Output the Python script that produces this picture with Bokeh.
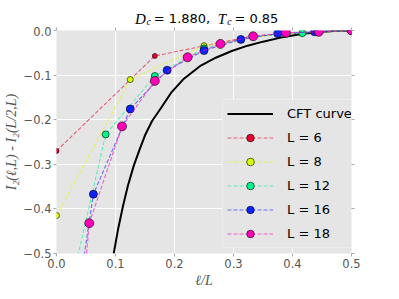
from bokeh.plotting import figure
from bokeh.layouts import column
from bokeh.core.properties import value
from bokeh.models import (Range1d, FixedTicker, CustomJSTickFormatter, LinearAxis,
                          Legend, LegendItem)
from bokeh.embed import file_html
from bokeh.resources import INLINE

# ---------------- data ----------------
x_ticks = [0.0, 0.1, 0.2, 0.3, 0.4, 0.5]
y_ticks = [-0.5, -0.4, -0.3, -0.2, -0.1, 0.0]

cft_x = [0.097, 0.104, 0.113, 0.121, 0.131, 0.140, 0.150, 0.162, 0.178, 0.194, 0.216,
         0.243, 0.270, 0.297, 0.324, 0.350, 0.380, 0.410, 0.440, 0.470, 0.500]
cft_y = [-0.500, -0.448, -0.392, -0.348, -0.303, -0.270, -0.235, -0.203, -0.172, -0.140,
         -0.108, -0.080, -0.061, -0.046, -0.034, -0.025, -0.016, -0.009, -0.004, -0.001, 0.000]

L6_x = [0.0, 1/6, 2/6, 3/6]
L6_y = [-0.270, -0.057, -0.012, 0.0]

L8_x = [0.0, 1/8, 2/8, 3/8, 4/8]
L8_y = [-0.415, -0.110, -0.034, -0.008, 0.0]

L12_x = [0.0, 1/12, 2/12, 3/12, 4/12, 5/12, 6/12]
L12_y = [-0.716, -0.233, -0.102, -0.040, -0.013, -0.006, 0.0]

L16_x = [0.0, 1/16, 2/16, 3/16, 4/16, 5/16, 6/16, 7/16, 8/16]
L16_y = [-0.917, -0.367, -0.176, -0.089, -0.045, -0.020, -0.007, -0.003, 0.0]

L18_x = [0.0, 1/18, 2/18, 3/18, 4/18, 5/18, 6/18, 7/18, 8/18, 9/18]
L18_y = [-1.25, -0.432, -0.215, -0.113, -0.060, -0.030, -0.013, -0.005, -0.003, 0.0]

series = [
    ("L = 6", L6_x, L6_y, "#e8002c", 5),
    ("L = 8", L8_x, L8_y, "#dcff00", 6),
    ("L = 12", L12_x, L12_y, "#00f58f", 7),
    ("L = 16", L16_x, L16_y, "#0a22ff", 8),
    ("L = 18", L18_x, L18_y, "#ff00b8", 9),
]

# title pieces: text, x (data units of the shared x range), drop (px), font, style, size
title_parts = [
    ("D", 0.1332, 0.0, "Liberation Serif", "italic", "15px"),
    ("c", 0.1525, 2.5, "Liberation Serif", "italic", "10px"),
    ("= 1.880,", 0.1650, 0.0, "DejaVu Sans", "normal", "13px"),
    ("T", 0.2731, 0.0, "Liberation Serif", "italic", "15px"),
    ("c", 0.2895, 2.5, "Liberation Serif", "italic", "10px"),
    ("= 0.85", 0.3015, 0.0, "DejaVu Sans", "normal", "13px"),
]

LEFT, RIGHT = 48, 32

# ---------------- title strip ----------------
t = figure(width=383, height=26, output_backend="svg", toolbar_location=None,
           x_range=Range1d(0, 0.5), y_range=Range1d(0, 1),
           x_axis_location=None, y_axis_location=None,
           min_border_left=LEFT, min_border_right=RIGHT, min_border_top=0, min_border_bottom=0)
t.grid.visible = False
t.outline_line_color = None
t.background_fill_color = "white"
t.border_fill_color = "white"
for txt, tx, dy, fnt, sty, fs in title_parts:
    t.text(x=[tx], y=[0.29], text=[txt], text_font=value(fnt), text_font_style=sty,
           text_font_size=fs, text_color="black", text_baseline="middle",
           text_align="left", y_offset=dy)

# ---------------- main figure ----------------
p = figure(width=383, height=265, output_backend="svg", toolbar_location=None,
           x_range=Range1d(0, 0.5), y_range=Range1d(-0.5, 0),
           min_border_left=LEFT, min_border_right=RIGHT, min_border_top=4, min_border_bottom=38,
           title=None)
p.background_fill_color = "#e5e5e5"
p.border_fill_color = "white"
p.outline_line_color = None
p.grid.grid_line_color = "white"
p.grid.grid_line_width = 1

fmt = CustomJSTickFormatter(code="return tick.toFixed(1).replace('-', '\\u2212');")
for ax in (p.xaxis[0], p.yaxis[0]):
    ax.formatter = fmt
    ax.major_label_text_color = "#555555"
    ax.major_label_text_font = "DejaVu Sans"
    ax.major_label_text_font_size = "11.5px"
    ax.axis_line_color = None
    ax.major_tick_line_color = "#aaaaaa"
    ax.major_tick_out = 3
    ax.major_tick_in = 0
    ax.minor_tick_line_color = None
    ax.major_label_standoff = 2
    ax.axis_label_text_font = "Liberation Serif"
    ax.axis_label_text_font_style = "italic"
    ax.axis_label_text_font_size = "14px"
    ax.axis_label_text_color = "#555555"
    ax.axis_label_standoff = 2
p.xaxis[0].ticker = FixedTicker(ticks=x_ticks)
p.yaxis[0].ticker = FixedTicker(ticks=y_ticks)
p.xgrid.ticker = FixedTicker(ticks=x_ticks)
p.ygrid.ticker = FixedTicker(ticks=y_ticks)
p.xaxis[0].axis_label = "\u2113/L"
p.yaxis[0].axis_label = "I\u2082(\u2113,L) - I\u2082(L/2,L)"

blank = CustomJSTickFormatter(code="return '';")
for loc, tk in (("above", x_ticks), ("right", y_ticks)):
    ax = LinearAxis(ticker=FixedTicker(ticks=tk), formatter=blank,
                    axis_line_color=None, major_tick_line_color="#aaaaaa",
                    major_tick_out=3, major_tick_in=0, minor_tick_line_color=None,
                    major_label_standoff=0)
    p.add_layout(ax, loc)

items = []
cft = p.line(cft_x, cft_y, line_color="black", line_width=2)
items.append(LegendItem(label="CFT curve", renderers=[cft]))
for name, xs, ys, col, sz in series:
    ln = p.line(xs, ys, line_color=col, line_alpha=0.6, line_width=1.1, line_dash="4 2")
    sc = p.scatter(xs, ys, size=sz, fill_color=col, line_color="black", line_width=0.6)
    items.append(LegendItem(label=name, renderers=[ln, sc]))

legend = Legend(items=items, location=(166, 5), background_fill_color="#e5e5e5",
                background_fill_alpha=1, border_line_color="#f4f4f4", border_line_width=1,
                label_text_font="DejaVu Sans", label_text_font_size="13px",
                label_text_color="black", glyph_width=46, glyph_height=19, label_height=19,
                spacing=5, padding=4, label_standoff=14, margin=0)
p.add_layout(legend, "center")

layout = column(t, p, spacing=0)
open("out.html", "w").write(file_html(layout, INLINE))
